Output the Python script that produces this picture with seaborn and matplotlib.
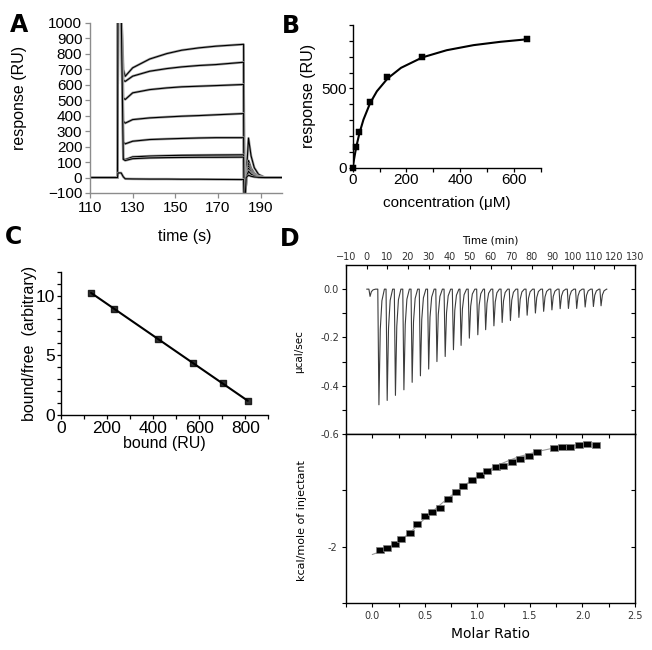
import matplotlib
matplotlib.use("Agg")
import numpy as np
import pandas as pd
import matplotlib.pyplot as plt
import seaborn as sns

sns.set_theme(style="ticks")
plt.rcParams['font.family'] = ['Liberation Sans', 'DejaVu Sans']
plt.rcParams.update({'text.color': 'black', 'axes.labelcolor': 'black',
                     'xtick.color': 'black', 'ytick.color': 'black'})

# ---------- A: sensorgrams ----------
assoc_time = [125.6, 126.5, 130, 138, 146, 153, 161, 169, 182]
sensor_curves = [
    [700, 655, 710, 767, 802, 824, 839, 850, 862],
    [630, 622, 656, 688, 705, 716, 725, 731, 746],
    [515, 505, 548, 569, 580, 587, 591, 595, 602],
    [365, 352, 375, 386, 392, 397, 401, 406, 414],
    [230, 218, 235, 246, 250, 253, 256, 258, 258],
    [125, 116, 134, 139, 142, 144, 145, 146, 147],
    [118, 110, 122, 127, 129, 130, 131, 131, 132],
    [5, -8, -9, -10, -10, -11, -11, -12, -13],
]
spike_height = [1100, 1100, 1100, 1100, 1100, 1100, 1100, 30]
dissoc_bump = [255, 110, 90, 75, 60, 45, 40, 15]
bump_time = [184.3, 185.5, 187, 189, 192, 200]
bump_shape = [1.0, 0.55, 0.25, 0.08, 0.0, 0.0]

# ---------- B: steady-state binding ----------
conc = [0, 12.4, 24.7, 64.3, 128.6, 259.7, 649]
resp = [0, 132, 227, 416, 569, 700, 809]
fit_conc = [0, 5, 10, 15, 25, 40, 65, 90, 130, 180, 260, 350, 450, 550, 650]
fit_resp = [0, 53, 101, 144, 217, 303, 408, 482, 563, 630, 696, 741, 773, 794, 810]

# ---------- C: Scatchard ----------
bound = [131.7, 232, 420, 574, 703, 811]
bound_free = [10.22, 8.89, 6.39, 4.36, 2.64, 1.17]

# ---------- D: ITC ----------
inj_time = [1.3, 5.6, 9.6, 13.6, 17.7, 21.7, 25.7, 29.7, 33.7, 37.7, 41.7, 45.4,
            49.4, 53.5, 57.3, 61.3, 65.3, 69.3, 73.4, 77.4, 81.4, 85.4, 89.4,
            93.4, 97.4, 101.4, 105.5, 109.5, 113.2]
peak_depth = [-0.03, -0.479, -0.461, -0.44, -0.417, -0.386, -0.359, -0.331, -0.30,
              -0.279, -0.251, -0.233, -0.203, -0.189, -0.168, -0.152, -0.138,
              -0.13, -0.117, -0.108, -0.099, -0.092, -0.086, -0.081, -0.08,
              -0.08, -0.074, -0.072, -0.069]
molar_ratio = [0.07, 0.14, 0.213, 0.277, 0.357, 0.43, 0.5, 0.573, 0.643, 0.723,
               0.796, 0.866, 0.946, 1.025, 1.096, 1.175, 1.248, 1.328, 1.408,
               1.487, 1.567, 1.726, 1.806, 1.885, 1.965, 2.045, 2.13]
heat = [-2.06, -2.03, -1.95, -1.86, -1.75, -1.60, -1.46, -1.38, -1.31, -1.15,
        -1.03, -0.917, -0.82, -0.72, -0.66, -0.589, -0.56, -0.49, -0.44,
        -0.387, -0.315, -0.256, -0.232, -0.238, -0.196, -0.185, -0.196]
fit_ratio = [0.0, 0.1, 0.2, 0.3, 0.4, 0.5, 0.6, 0.7, 0.8, 0.9, 1.0, 1.1, 1.2,
             1.3, 1.4, 1.5, 1.6, 1.7, 1.8, 1.9, 2.0, 2.15]
fit_heat = [-2.14, -2.07, -1.97, -1.84, -1.68, -1.50, -1.33, -1.17, -1.02, -0.88,
            -0.75, -0.64, -0.55, -0.47, -0.40, -0.35, -0.30, -0.26, -0.23, -0.21,
            -0.19, -0.18]

fig = plt.figure(figsize=(6.52, 6.5), dpi=100)
W, H = 652, 650


def box(l, t, r, b):
    return [l / W, 1 - b / H, (r - l) / W, (b - t) / H]


letter_kw = dict(fontsize=17, fontweight='heavy', family='DejaVu Sans',
                 ha='center', va='center', color='black')
fig.text(19 / W, 1 - 25 / H, 'A', **letter_kw)
fig.text(291 / W, 1 - 26 / H, 'B', **letter_kw)
fig.text(14 / W, 1 - 237 / H, 'C', **letter_kw)
fig.text(290 / W, 1 - 239 / H, 'D', **letter_kw)

# ---- panel A ----
axA = fig.add_axes(box(90, 23, 282, 193))
for curve, sp, bump in zip(sensor_curves, spike_height, dissoc_bump):
    t = [110, 122.9, 123.1, 124.6] + assoc_time + [182.3, 182.7, 183.2] + bump_time
    y = [0, 0, sp, sp] + curve + [-150, -150, 0] + [bump * s for s in bump_shape]
    axA.plot(t, y, color='#a0a0a0', lw=1.8, solid_joinstyle='round')
    axA.plot(t, y, color='black', lw=0.8)
axA.set_xlim(110, 200)
axA.set_ylim(-100, 1000)
axA.set_xticks([110, 130, 150, 170, 190])
axA.set_yticks(range(-100, 1001, 100))
sns.despine(ax=axA)
for s in ['left', 'bottom']:
    axA.spines[s].set_color('#8c8c8c')
    axA.spines[s].set_linewidth(1.0)
axA.tick_params(direction='out', length=3.5, width=0.9, color='#8c8c8c',
                labelsize=11, pad=2)
axA.set_ylabel('response (RU)', fontsize=11.5)
axA.yaxis.set_label_coords(-0.328, 0.56)
axA.set_xlabel('time (s)', fontsize=11.5)
axA.xaxis.set_label_coords(0.495, -0.212)

# ---- panel B ----
axB = fig.add_axes(box(352.7, 25, 540.7, 167.7))
sns.lineplot(x=fit_conc, y=fit_resp, ax=axB, color='black', lw=1.5)
sns.scatterplot(x=conc, y=resp, ax=axB, marker='s', color='black', s=18,
                edgecolor='black', zorder=3, clip_on=False)
axB.set_xlim(0, 700)
axB.set_ylim(0, 900)
axB.set_xticks(range(0, 701, 100))
axB.set_xticklabels(['0', '', '200', '', '400', '', '600', ''])
axB.set_yticks(range(0, 901, 100))
axB.set_yticklabels(['0', '', '', '', '', '500', '', '', '', ''])
sns.despine(ax=axB)
for s in ['left', 'bottom']:
    axB.spines[s].set_color('black')
    axB.spines[s].set_linewidth(1.0)
axB.tick_params(direction='out', length=3, width=0.9, color='black',
                labelsize=11, pad=1)
axB.set_ylabel('response (RU)', fontsize=11.5)
axB.yaxis.set_label_coords(-0.195, 0.5)
axB.set_xlabel('concentration (\u03bcM)', fontsize=11)
axB.xaxis.set_label_coords(0.5, -0.198)

# ---- panel C ----
axC = fig.add_axes(box(60.7, 271.7, 268.3, 415))
sns.regplot(x=bound, y=bound_free, ax=axC, ci=None, marker='s', color='black',
            scatter_kws=dict(s=20, zorder=3), line_kws=dict(lw=1.5))
axC.set_xlim(0, 900)
axC.set_ylim(0, 12)
axC.set_xticks(range(0, 901, 100))
axC.set_xticklabels(['0', '', '200', '', '400', '', '600', '', '800', ''])
axC.set_yticks(range(0, 13))
axC.set_yticklabels(['0', '', '', '', '', '5', '', '', '', '', '10', '', ''])
sns.despine(ax=axC)
for s in ['left', 'bottom']:
    axC.spines[s].set_color('black')
    axC.spines[s].set_linewidth(1.0)
axC.tick_params(direction='out', length=3, width=0.9, color='black',
                labelsize=12.5, pad=1)
axC.set_ylabel('bound/free  (arbitrary)', fontsize=11.5)
axC.yaxis.set_label_coords(-0.114, 0.5)
axC.set_xlabel('bound (RU)', fontsize=11.5)
axC.xaxis.set_label_coords(0.5, -0.15)

# ---- panel D top: thermogram ----
dfont = dict(family='DejaVu Sans')
axD1 = fig.add_axes(box(346, 265, 635, 434))
th_t, th_y = [0.0], [0.0]
for t0, d in zip(inj_time, peak_depth):
    th_t += [t0 - 0.2, t0 + 0.35, t0 + 1.0, t0 + 1.8, t0 + 3.0]
    th_y += [0.0, d, 0.35 * d, 0.1 * d, 0.0]
th_t.append(116.4)
th_y.append(0.0)
axD1.plot(th_t, th_y, color='#3c3c3c', lw=0.8)
axD1.set_xlim(-10, 130)
axD1.set_ylim(-0.6, 0.1)
axD1.set_xticks(range(-10, 131, 10))
axD1.set_yticks([-0.6, -0.4, -0.2, 0.0])
axD1.set_yticklabels(['-0.6', '-0.4', '-0.2', '0.0'])
axD1.set_yticks([-0.5, -0.3, -0.1], minor=True)
axD1.xaxis.tick_top()
axD1.tick_params(axis='x', which='both', direction='in', length=3, width=0.8,
                 labelsize=7, pad=2, labelcolor='#333333', bottom=False)
axD1.tick_params(axis='y', which='both', direction='out', length=3, width=0.8,
                 labelsize=7, pad=2, labelcolor='#333333')
for lab in axD1.get_xticklabels() + axD1.get_yticklabels():
    lab.set_family('DejaVu Sans')
sec1 = axD1.secondary_yaxis('right')
sec1.set_yticks(np.arange(-0.6, 0.01, 0.1))
sec1.tick_params(direction='in', length=3, width=0.8, labelright=False)
for s in axD1.spines.values():
    s.set_color('black')
    s.set_linewidth(1.0)
sec1.spines['right'].set_visible(False)
axD1.set_ylabel('\u00b5cal/sec', fontsize=7.5, **dfont)
axD1.yaxis.set_label_coords(-0.145, 0.49)
axD1.set_title('Time (min)', fontsize=7.5, pad=0, y=1.13, **dfont)

# ---- panel D bottom: isotherm ----
axD2 = fig.add_axes(box(346, 434, 635, 603))
rect = [(-1, -0.62), (1, -0.62), (1, 0.62), (-1, 0.62), (-1, -0.62)]
sns.lineplot(x=fit_ratio, y=fit_heat, ax=axD2, color='#9a9a9a', lw=0.8)
sns.scatterplot(x=molar_ratio, y=heat, ax=axD2, marker=rect, color='black',
                s=34, edgecolor='#808080', linewidth=0.5, zorder=3)
axD2.set_xlim(-0.25, 2.5)
axD2.set_ylim(-3, 0)
axD2.set_xticks(np.arange(-0.25, 2.51, 0.25))
axD2.set_xticklabels(['', '0.0', '', '0.5', '', '1.0', '', '1.5', '', '2.0', '', '2.5'])
axD2.set_yticks([-3, -2, -1])
axD2.set_yticklabels(['', '-2', ''])
axD2.tick_params(axis='both', direction='out', length=3, width=0.8,
                 labelsize=7, pad=3, labelcolor='#333333')
for lab in axD2.get_xticklabels() + axD2.get_yticklabels():
    lab.set_family('DejaVu Sans')
topx = axD2.secondary_xaxis('top')
topx.set_xticks(np.arange(-0.25, 2.51, 0.25))
topx.tick_params(direction='in', length=3, width=0.8, labeltop=False)
topx.spines['top'].set_visible(False)
sec2 = axD2.secondary_yaxis('right')
sec2.set_yticks([-2, -1])
sec2.tick_params(direction='in', length=3, width=0.8, labelright=False)
sec2.spines['right'].set_visible(False)
for s in axD2.spines.values():
    s.set_color('black')
    s.set_linewidth(1.0)
axD2.set_ylabel('kcal/mole of injectant', fontsize=8, **dfont)
axD2.yaxis.set_label_coords(-0.135, 0.49)
axD2.set_xlabel('Molar Ratio', fontsize=10, **dfont)
axD2.xaxis.set_label_coords(0.5, -0.14)

fig.savefig('out.png', dpi=100, facecolor='white')
